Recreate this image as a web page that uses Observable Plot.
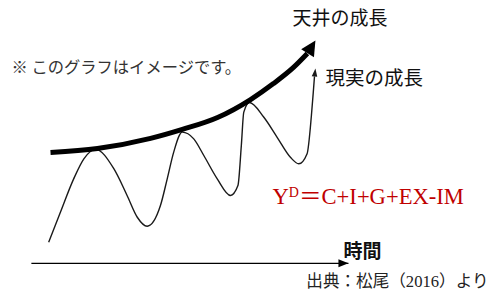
<!DOCTYPE html>
<html><head><meta charset="utf-8">
<script src="https://cdn.jsdelivr.net/npm/d3@7"></script>
<script src="https://cdn.jsdelivr.net/npm/@observablehq/plot@0.6"></script>
<style>body{margin:0;background:#fff}#chart svg{display:block}</style>
</head><body><div id="chart"></div>
<script>
// 天井の成長 (ceiling growth): time, level — the last point is the arrow tip
const ceilingT = [6.2, 21.4, 38.6, 48.9, 60.3, 71.0, 78.4, 84.9, 89.4, 92.0];
const ceilingV = [49.3, 51.1, 55.6, 59.6, 64.9, 72.9, 80.0, 87.2, 93.4, 99.2];
// 現実の成長 (actual growth): time, level — the last point is the arrow tip
const actualT = [5.6, 9.4, 13.7, 17.0, 20.8, 26.7, 31.0, 34.3, 37.5, 41.8, 44.0, 46.1, 48.85, 52.6, 55.85, 60.2, 64.5, 66.9, 68.0, 68.8, 70.65, 75.3, 79.6, 83.9, 86.6, 89.3, 90.7, 91.4, 91.7, 92.0];
const actualV = [9.4, 22.75, 37.6, 46.5, 50.7, 42.1, 30.2, 20.5, 16.5, 25.7, 37.6, 49.5, 58.4, 55.4, 48.0, 37.6, 30.2, 34.6, 52.4, 67.3, 71.6, 65.0, 56.1, 47.2, 44.3, 48.8, 65.8, 77.8, 83.2, 86.7];
// time axis (last point is the arrow tip)
const axisT = [0, 102.7];
const axisV = [0, 0];

const seriesLabels = ["天井の成長", "現実の成長"];
const axisLabel = "時間";
const noteText = "※ このグラフはイメージです。";
const formulaText = "YD＝C+I+G+EX-IM";
const sourceText = "出典：松尾（2016）より";

const W = 494, H = 292;
const xDomain = [-10, 150], yDomain = [-13, 117];
const kx = W / (xDomain[1] - xDomain[0]);
const ky = H / (yDomain[1] - yDomain[0]);

const toRows = (T, V) => T.map((t, i) => ({t, v: V[i]}));
const ceiling = toRows(ceilingT, ceilingV);
const actual = toRows(actualT, actualV);
const axis = toRows(axisT, axisV);

// filled arrowhead symbol whose tip sits at the point, oriented along the last segment
function arrowSymbol(rows, len, half) {
  const n = rows.length;
  const dx = (rows[n-1].t - rows[n-2].t) * kx;
  const dy = -(rows[n-1].v - rows[n-2].v) * ky;
  const a = Math.atan2(dx, -dy);
  const c = Math.cos(a), s = Math.sin(a);
  const pts = [[0, 0], [-half, len], [half, len]].map(([x, y]) => [x * c - y * s, x * s + y * c]);
  return {draw(ctx) { ctx.moveTo(pts[0][0], pts[0][1]); ctx.lineTo(pts[1][0], pts[1][1]); ctx.lineTo(pts[2][0], pts[2][1]); ctx.closePath(); }};
}
const tip = rows => [rows[rows.length - 1]];

const jp = '"Noto Sans CJK JP", sans-serif';
const serif = '"Liberation Serif", "DejaVu Serif", "Noto Sans CJK JP", serif';

const chart = Plot.plot({
  width: W, height: H,
  margin: 0,
  x: {domain: xDomain, axis: null},
  y: {domain: yDomain, axis: null},
  style: {background: "#fff", fontFamily: jp},
  marks: [
    // time axis
    Plot.line(axis, {x: "t", y: "v", stroke: "#000", strokeWidth: 1.3, strokeLinecap: "butt"}),
    Plot.dot(tip(axis), {x: "t", y: "v", r: 4, symbol: arrowSymbol(axis, 10, 4), fill: "#000"}),
    // actual growth
    Plot.line(actual.slice(0, -1), {x: "t", y: "v", curve: "monotone-x", stroke: "#1a1a1a", strokeWidth: 1.4, strokeLinecap: "butt"}),
    Plot.dot(tip(actual), {x: "t", y: "v", r: 4, symbol: arrowSymbol(actual, 8, 2.8), fill: "#1a1a1a"}),
    // ceiling growth
    Plot.line(ceiling.slice(0, -1), {x: "t", y: "v", curve: "monotone-x", stroke: "#000", strokeWidth: 5, strokeLinecap: "butt"}),
    Plot.dot(tip(ceiling), {x: "t", y: "v", r: 4, symbol: arrowSymbol(ceiling, 15, 7.5), fill: "#000"}),
    // labels
    Plot.text(tip(ceiling), {x: "t", y: "v", text: () => seriesLabels[0], dx: -23, dy: -22, textAnchor: "start", fontSize: 19, fill: "#111"}),
    Plot.text(tip(actual), {x: "t", y: "v", text: () => seriesLabels[1], dx: 10, dy: 10, textAnchor: "start", fontSize: 19.5, fill: "#111"}),
    Plot.text(tip(axis), {x: "t", y: "v", text: () => axisLabel, dx: -5, dy: -11, textAnchor: "start", fontSize: 19, fontWeight: "bold", fill: "#111"}),
    Plot.text([noteText], {frameAnchor: "top-left", text: d => d, dx: 11, dy: 67, textAnchor: "start", lineAnchor: "middle", fontSize: 16.3, fill: "#333"}),
    Plot.text([formulaText], {frameAnchor: "top-left", text: d => d, dx: 272, dy: 196, textAnchor: "start", lineAnchor: "middle", fontSize: 22.6, fill: "#c00000", fontFamily: serif}),
    Plot.text([sourceText], {frameAnchor: "bottom-right", text: d => d, dx: -6, dy: -11, textAnchor: "end", lineAnchor: "middle", fontSize: 16.6, fill: "#222", fontFamily: serif})
  ]
});

// superscript D in the formula
for (const el of chart.querySelectorAll("text")) {
  if (el.textContent === formulaText) {
    el.textContent = "";
    const ns = "http://www.w3.org/2000/svg";
    el.appendChild(document.createTextNode("Y"));
    const sup = document.createElementNS(ns, "tspan");
    sup.setAttribute("dy", "-0.5em"); sup.setAttribute("font-size", "0.62em");
    sup.textContent = "D";
    el.appendChild(sup);
    const rest = document.createElementNS(ns, "tspan");
    rest.setAttribute("dy", "0.31em");
    rest.textContent = "＝C+I+G+EX-IM";
    el.appendChild(rest);
  }
}
document.getElementById("chart").appendChild(chart);
</script>
</body></html>
